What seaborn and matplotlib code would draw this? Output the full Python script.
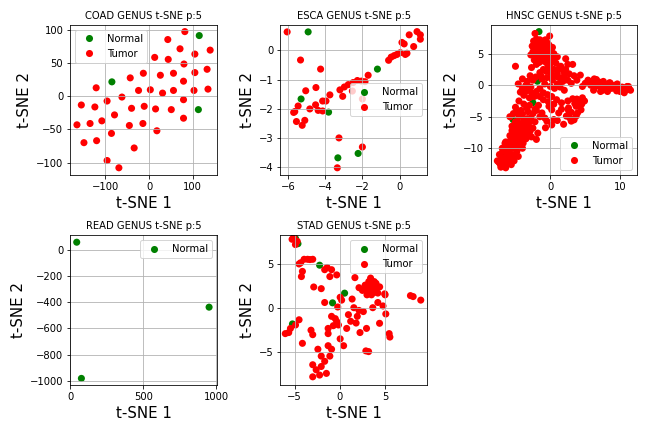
import matplotlib
matplotlib.use("Agg")
import matplotlib.pyplot as plt
import seaborn as sns
import pandas as pd

# ---------------- data ----------------
coad_normal_x = [-85, 115, 113]
coad_normal_y = [22, 92, -20]
coad_tumor_x = [82, 43, 71, 105, 140, 13, 44, 80, 133, 105, 56, 26, -13, -43, 79, -121, -24, 3, 56, 103,
                135, 31, -62, -96, 79, -155, -124, -40, -11, 15, 51, -79, -108, 79, -135, -165, -45, -14,
                18, -86, -149, -120, -34, -96, -69]
coad_tumor_y = [98, 86, 72, 64, 70, 59, 56, 49, 41, 36, 35, 32, 35, 28, 23, 13, 9, 10, 9, 9,
                11, 5, -1, -7, -5, -13, -16, -18, -15, -19, -20, -28, -37, -33, -41, -43, -44, -41,
                -52, -56, -70, -67, -78, -97, -108]

esca_normal_x = [-4.92, -1.19, -5.30, -3.82, -3.32, -2.23]
esca_normal_y = [0.63, -0.64, -1.66, -2.11, -3.67, -3.52]
esca_tumor_x = [-6.05, -5.33, -4.25, -1.69, -5.05, -4.50, -3.75, -3.96, -4.14, -4.52, -4.83, -5.46,
                -5.64, -5.55, -5.24, -5.10, -4.38, -4.14, -3.21, -3.06, -2.97, -2.76, -2.50, -2.27,
                -2.05, -1.86, -2.54, -2.00, -3.26, -2.00, -3.35, -0.59, -0.45, -0.29, -0.14, 0.04,
                0.31, 0.25, 0.13, 0.52, 0.76, 0.94, 1.12, 1.12, 0.40, -5.70]
esca_tumor_y = [0.63, -0.33, -0.64, -0.85, -1.38, -1.27, -1.52, -1.73, -1.73, -1.86, -2.00, -1.90,
                -2.09, -2.43, -2.56, -2.39, -2.05, -2.07, -1.35, -1.57, -1.25, -1.17, -1.10, -1.03,
                -1.05, -1.07, -1.39, -1.66, -2.99, -3.30, -4.01, -0.34, -0.23, -0.18, -0.14, -0.08,
                -0.14, 0.22, 0.27, 0.53, 0.13, 0.64, 0.53, 0.38, -0.10, -2.12]

hnsc_normal_x = [-1.63, -1.86, -2.50, -5.35, -4.74, -6.84, -7.20]
hnsc_normal_y = [8.5, 0.63, -2.77, -5.45, -7.8, -10.7, -12.25]
hnsc_tumor_x = [-2.2, -0.1, -1.5, -1.0, -0.5, -1.8, -1.2, -0.8, -2.0, -1.5, -0.3, -2.5, -1.0, -0.6,
                -1.8, -1.3, -0.2, 0.5, 1.0, -0.9, -2.3, -0.5, 0.3, 1.5, -1.0, -0.3, 0.5, 2.2, -1.5,
                0.0, 1.0, 2.0, -0.5, -1.2, 0.3, -2.5, 1.5, 2.5, -0.8, 0.0,
                -5.0, -4.0, 2.2, 3.2, -2.7, -2.3, -1.0,
                4.3, 5.0, 6.3, 6.8, 7.3, 7.8, 8.3, 8.8, 9.3, 9.8, 10.3, 10.8, 11.3, 11.5, 6.5, 7.0,
                8.0, 9.0, 10.0, 5.8, 3.0, 6.0, 7.5, 8.5, 9.5, 10.5, 11.0,
                3.2, 4.0, 4.9, 3.7, 4.4, 3.0, 3.7, 2.3, 3.0, 1.9, 1.2, 0.2, -0.2, 0.5, -0.5, -0.7,
                0.9, 1.6, 4.5, 2.6, 3.4,
                -3.5, -4.0, -3.0, -4.5, -3.8, -5.0, -4.2, -3.2, -5.3, -2.5, -4.5, -3.8, -2.8, -5.0,
                -4.2, -3.2, -5.5, -4.8, -2.5, -5.2, -4.0, -1.8, -5.8, -4.5, -3.0, -6.0, -5.0, -3.5,
                -6.2, -5.3, -4.5, -6.8, -6.0, -5.5, -7.0, -6.5, -5.8, -7.2, -6.8, -6.2, -7.3, -2.7,
                -2.0, -3.5, -1.5, -2.8, -1.7, -3.0, -2.0, -1.5, -6.5, -5.6, -4.8, -3.6, -4.0, -6.3,
                -5.9, -7.4, -6.9, -5.1, -4.3,
                -2.4, -2.0, -1.6, -0.7, -0.2, 0.3, -2.6, -2.2, -1.7, -0.9, -0.4, 0.2, -2.8, -2.0,
                -1.5, -0.8, 0.0, 0.4, -1.6, -2.0, -0.1, 0.8, 1.2, 1.9, 2.7, 1.8, 1.0, 0.6, 1.4, 2.0,
                -1.0, -0.4, 0.2, -1.5, -2.6, -3.2, -3.8, -4.3, -4.6, -3.3, -2.9, -2.1, -1.4, -0.6,
                0.4, 1.1,
                2.5, 3.5, 4.2, 3.9, 2.6, 1.6, 2.8, 1.0, 0.2, -0.8, -1.2, 0.5, -0.3, 4.6, 3.8,
                -2.2, -3.4, -4.0, -4.8, -5.8, -3.3, -2.2, -4.6, -3.7, -2.9, -5.2, -3.5, -4.3, -2.9,
                -5.5, -4.9, -3.8, -5.4, -4.2, -5.6, -4.9, -3.9, -6.4, -5.9, -4.8, -6.5, -5.2, -6.1,
                -4.6, -6.7, -5.6, -7.6, -7.1, -6.4, -5.2, -6.0, -5.0, -3.3, -2.0, -4.0,
                6.2, 6.6, 7.2, 7.6, 8.2, 8.6, 9.6, 10.6, 11.2, 5.4, 4.6, 3.8, 3.4, 2.5]
hnsc_tumor_y = [8.2, 7.8, 7.2, 7.0, 6.8, 6.5, 6.2, 6.0, 5.8, 5.5, 5.5, 5.3, 5.2, 4.8,
                4.8, 4.5, 4.2, 5.0, 4.5, 3.8, 4.0, 3.5, 3.8, 3.0, 2.5, 2.8, 2.5, 2.5, 2.0,
                2.0, 1.8, 1.5, 1.2, 1.0, 0.8, 0.8, 1.0, 0.8, 0.2, -0.2,
                3.0, 1.0, 4.2, 3.3, 2.8, -1.8, -2.3,
                1.6, 0.3, 1.0, 0.3, -0.4, 0.2, -0.1, -0.5, 0.0, -0.6, -0.3, -0.8, -0.6, -0.8, -0.2, 0.5,
                -0.6, -0.3, -1.0, 0.0, 0.3, 0.6, -0.8, 0.4, -0.9, -0.5, -0.2,
                -2.15, -2.4, -2.5, -3.35, -3.9, -4.3, -4.9, -4.9, -5.7, -6.2, -4.4, -3.9, -3.35, -5.45,
                -5.7, -6.75, -2.3, -2.8, -3.0, -3.6, -5.5,
                -1.0, -0.5, -2.0, -2.5, -3.0, -3.5, -4.0, -4.2, -4.5, -4.5, -5.0, -5.5, -5.2, -5.8,
                -6.3, -6.5, -6.5, -7.0, -6.8, -7.5, -7.5, -7.6, -8.0, -8.3, -8.0, -9.0, -9.0, -8.5,
                -9.7, -10.0, -9.5, -10.5, -10.8, -11.0, -11.5, -11.8, -12.0, -12.5, -12.8, -12.5, -11.0, -8.2,
                -1.0, 0.0, -0.5, -0.3, -3.2, -3.2, -4.0, -5.0, -9.2, -8.6, -7.8, -7.0, -6.0, -11.2,
                -11.4, -12.2, -10.0, -8.0, -6.8,
                7.0, 7.3, 6.8, 7.2, 6.4, 6.0, 6.2, 5.6, 6.0, 5.7, 6.0, 5.2, 4.8, 4.5,
                4.0, 4.4, 4.8, 4.2, 3.6, 3.3, 3.2, 3.5, 2.6, 2.2, 1.8, 0.6, 0.2, -0.5, -0.3, -0.8,
                -1.2, -1.5, -1.8, -1.8, -1.3, -0.8, -1.6, -1.1, 0.2, 0.6, 1.5, 1.3, 1.6, 2.2,
                1.4, 1.3,
                -2.5, -2.9, -3.1, -4.4, -4.0, -3.8, -5.2, -5.6, -6.3, -5.2, -4.4, -3.0, -2.6, -2.0, -2.2,
                -3.8, -3.6, -4.6, -4.2, -5.0, -5.3, -5.8, -6.0, -6.2, -5.8, -6.5, -7.0, -7.2, -7.3,
                -7.2, -7.8, -8.1, -8.4, -8.8, -9.3, -9.7, -9.2, -9.0, -10.3, -10.5, -10.1, -11.2, -11.5,
                -11.3, -12.2, -12.6, -12.0, -13.0, -13.1, -12.0, -9.6, -8.6, -7.7, -8.6, -10.0,
                -0.8, 0.9, -1.0, 0.6, -1.0, 0.3, 0.2, -1.2, -0.2, 0.8, -0.2, 0.8, 1.5, 3.3]

read_normal_x = [43, 75, 950]
read_normal_y = [56, -982, -439]

stad_normal_x = [-4.89, -4.62, -2.23, 0.53, -0.80, -5.23]
stad_normal_y = [7.88, 7.30, 4.86, 1.69, 0.59, -1.80]
stad_tumor_x = [-5.27, -4.70, -5.08, -4.9,
                3.0, 3.5, 4.0, 3.2, 3.8, 2.8, 4.2, 3.5, 3.0, 3.6, 4.0, 2.5, 3.4, 4.4, 3.3, 3.9,
                -3.94, -4.32, -3.56, -2.99, -4.13, -4.24, -2.88, -2.05, -1.67, -0.91, -1.10, -0.34,
                1.67, 2.12, 4.96, 7.80, 8.94, -1.67, 0.04, -0.23, 1.36, 1.55, 2.12, 0.95, 1.93, 0.76,
                2.23, 2.95, 3.64, 4.20, 4.77, 5.08, 4.39, 5.45, 5.53, 2.88, 3.18, -0.91, -0.34, -0.72,
                -0.15, -1.29, -1.29, 0.04, 0.42, -1.29, -0.91, -2.42, -3.18, -2.99, -4.13, -4.50,
                -5.64, -6.02, -5.45, -4.89, -2.05, -2.99, -2.61, -2.99, -2.05, -1.67, -1.48, -1.10,
                -2.23, -3.3, -4.5, -1.4, 1.2, 2.6, 0.2, -0.5, 5.0, 1.8, 8.1]
stad_tumor_y = [7.80, 7.57, 8.08, 7.2,
                2.0, 2.5, 2.2, 3.0, 3.0, 2.6, 1.7, 1.5, 1.5, 2.0, 2.8, 2.0, 3.4, 2.4, 2.2, 1.8,
                5.53, 5.14, 5.53, 5.53, 4.16, 3.57, 2.39, 2.20, 4.35, 4.35, 3.57, 3.76,
                3.45, 2.31, 1.61, 1.41, 0.90, 0.63, 1.22, 0.12, 1.02, 0.04, -0.27, -0.75, -0.94, -2.31,
                -2.78, -2.31, 0.04, 0.63, 0.24, -0.67, -1.73, -2.90, -3.29, -4.86, -4.94, -0.94, -1.53, -2.00,
                -1.92, -2.31, -2.90, -3.49, -4.27, -4.27, -4.67, -4.67, -2.51, -3.02, -4.00, -1.33,
                -2.78, -2.90, -2.31, -1.92, -5.45, -6.43, -7.00, -7.80, -6.63, -6.04, -7.41, -5.45,
                -7.60, 5.5, 5.0, 4.6, -1.5, -0.4, 0.9, -1.2, 1.5, -1.7, 1.3]

# ---------------- plot ----------------
palette = {"Normal": "green", "Tumor": "red"}


def make_df(nx, ny, tx=None, ty=None):
    xs = list(nx)
    ys = list(ny)
    labs = ["Normal"] * len(nx)
    if tx is not None:
        xs += list(tx)
        ys += list(ty)
        labs += ["Tumor"] * len(tx)
    return pd.DataFrame({"x": xs, "y": ys, "label": labs})


panels = [
    ("COAD GENUS t-SNE p:5", make_df(coad_normal_x, coad_normal_y, coad_tumor_x, coad_tumor_y), "upper left"),
    ("ESCA GENUS t-SNE p:5", make_df(esca_normal_x, esca_normal_y, esca_tumor_x, esca_tumor_y), "center right"),
    ("HNSC GENUS t-SNE p:5", make_df(hnsc_normal_x, hnsc_normal_y, hnsc_tumor_x, hnsc_tumor_y), "lower right"),
    ("READ GENUS t-SNE p:5", make_df(read_normal_x, read_normal_y), "upper right"),
    ("STAD GENUS t-SNE p:5", make_df(stad_normal_x, stad_normal_y, stad_tumor_x, stad_tumor_y), "upper right"),
]

fig, axes = plt.subplots(2, 3, figsize=(9, 6), dpi=72)
axes = axes.ravel()
for ax, (title, df, loc) in zip(axes, panels):
    sns.scatterplot(data=df, x="x", y="y", hue="label", palette=palette,
                    s=50, linewidth=0, ax=ax)
    ax.grid(True)
    ax.set_title(title, fontsize=10)
    ax.set_xlabel("t-SNE 1", fontsize=15)
    ax.set_ylabel("t-SNE 2", fontsize=15)
    ax.tick_params(labelsize=10)
    sns.move_legend(ax, loc, title=None, fontsize=10)

axes[3].set_xlim(-1, 1003)
axes[3].xaxis.set_major_locator(matplotlib.ticker.MultipleLocator(500))
axes[4].set_xlim(-6.55, 9.63)
axes[4].set_ylim(-8.75, 8.24)
axes[4].yaxis.set_major_locator(matplotlib.ticker.MultipleLocator(5))
fig.delaxes(axes[5])
fig.tight_layout()
fig.savefig("out.png", dpi=72)
